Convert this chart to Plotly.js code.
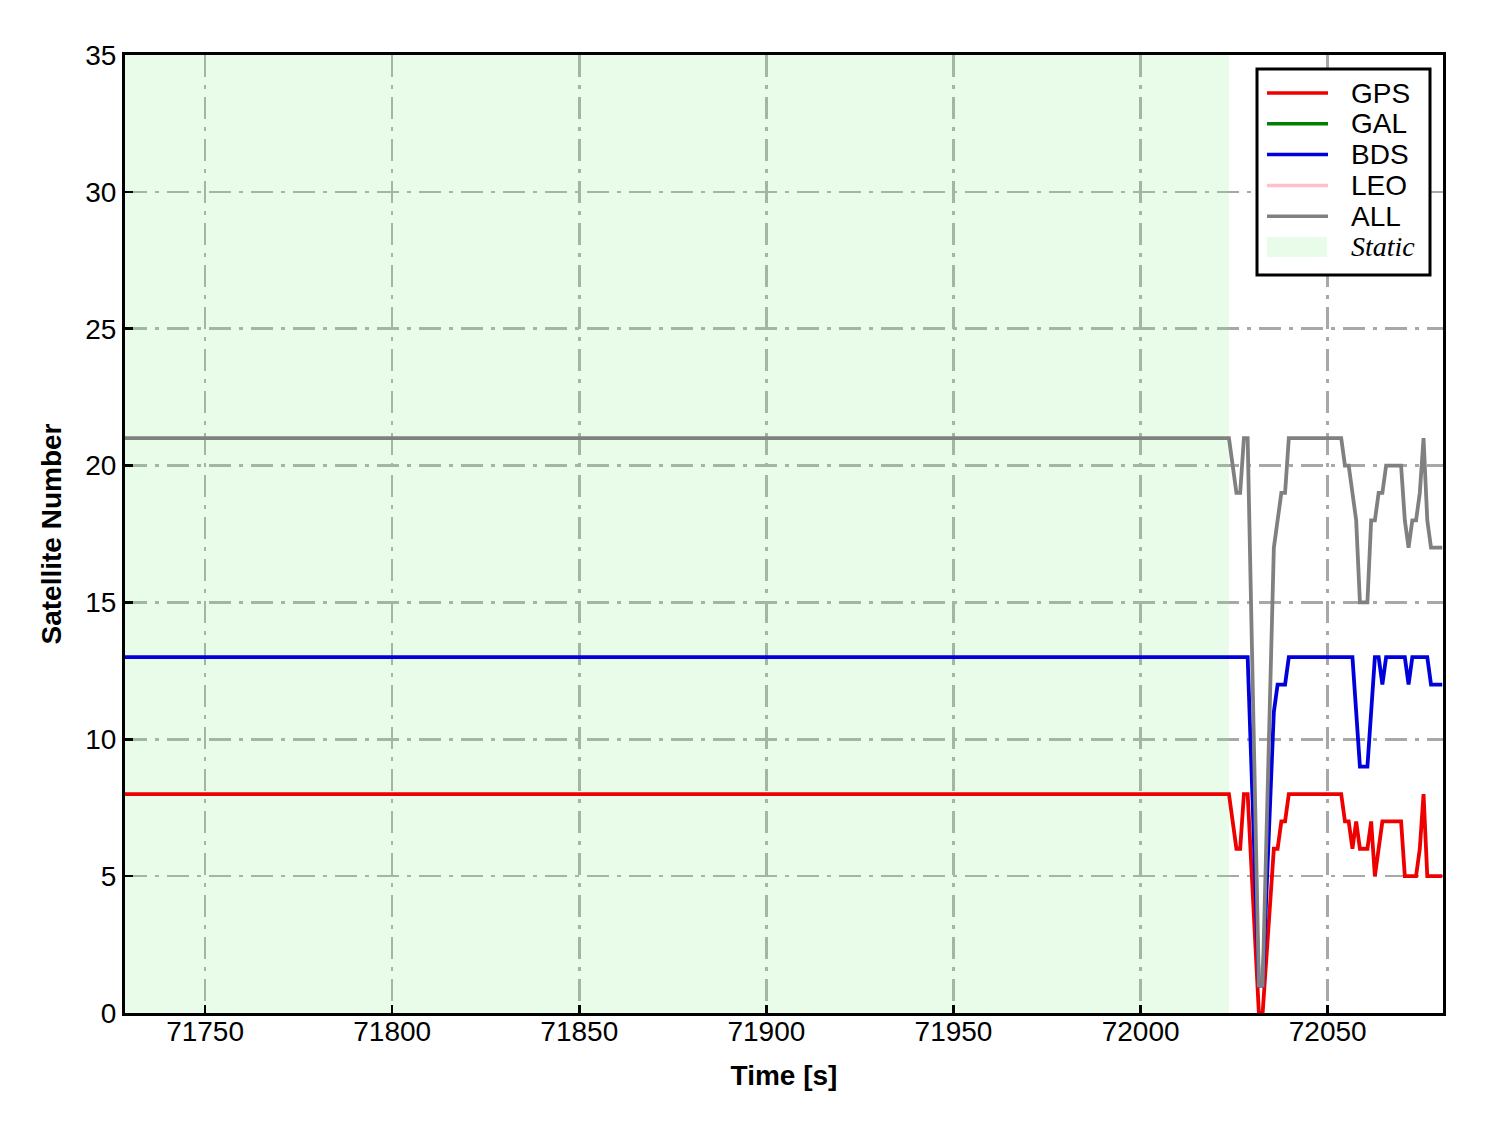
<!DOCTYPE html>
<html>
<head>
<meta charset="utf-8">
<script src="https://cdn.plot.ly/plotly-3.0.1.min.js"></script>
<style>html,body{margin:0;padding:0;background:#fff;}#chart{width:1488px;height:1133px;}</style>
</head>
<body>
<div id="chart"></div>
<script>
// Epoch times [s] (gaps where no epochs were solved)
const timeS = [71728.6, 72023.6, 72024.6, 72025.6, 72026.6, 72027.6, 72028.6,
  72031.6, 72032.6,
  72035.6, 72036.6, 72037.6, 72038.6, 72039.6, 72053.6, 72054.6, 72055.6, 72056.6,
  72057.6, 72058.6, 72059.6, 72060.6, 72061.6, 72062.6, 72063.6, 72064.6, 72065.6,
  72069.6, 72070.6, 72071.6, 72072.6, 72073.6, 72074.6, 72075.6, 72076.6, 72077.6, 72080.6];
const gpsCount = [8, 8, 7, 6, 6, 8, 8,
  0, 0,
  6, 6, 7, 7, 8, 8, 7, 7, 6,
  7, 6, 6, 6, 7, 5, 6, 7, 7,
  7, 5, 5, 5, 5, 6, 8, 5, 5, 5];
const bdsCount = [13, 13, 13, 13, 13, 13, 13,
  1, 1,
  11, 12, 12, 12, 13, 13, 13, 13, 13,
  11, 9, 9, 9, 11, 13, 13, 12, 13,
  13, 13, 12, 13, 13, 13, 13, 13, 12, 12];
const allCount = [21, 21, 20, 19, 19, 21, 21,
  1, 1,
  17, 18, 19, 19, 21, 21, 20, 20, 19,
  18, 15, 15, 15, 18, 18, 19, 19, 20,
  20, 18, 17, 18, 18, 19, 21, 18, 17, 17];
const galCount = [null];
const leoCount = [null];
const staticStart = 71728.6;
const staticEnd = 72023.6;
const yMax = 35;
const xTicks = [71750, 71800, 71850, 71900, 71950, 72000, 72050];
const yTicks = [0, 5, 10, 15, 20, 25, 30, 35];

const seriesNames = ['GPS', 'GAL', 'BDS', 'LEO', 'ALL'];
const seriesColors = ['#ee0000', '#007f00', '#0000dd', '#ffc0cb', '#808080'];
const staticFill = 'rgba(144,238,144,0.2)';

const lw = 3.8;
const seriesY = [gpsCount, galCount, bdsCount, leoCount, allCount];
const traces = [
  {x: [staticStart, staticEnd, staticEnd, staticStart, staticStart], y: [0, 0, yMax, yMax, 0],
   type: 'scatter', mode: 'lines', fill: 'toself', fillcolor: staticFill,
   line: {width: 0, color: 'rgba(0,0,0,0)'}, hoverinfo: 'skip', name: 'Static'}
];
seriesNames.forEach((n, i) => {
  const ys = seriesY[i];
  traces.push({x: ys.length > 1 ? timeS : ys, y: ys, type: 'scatter', mode: 'lines', name: n,
               line: {color: seriesColors[i], width: lw}});
});

// Legend box (drawn as decoration in paper coordinates)
const plotL = 125, plotR = 1443, plotT = 55, plotB = 1013;
const px = v => (v - plotL) / (plotR - plotL);
const py = v => (plotB - v) / (plotB - plotT);
const legendItems = seriesNames.concat(['Static']);
const legendY0 = 93, legendDy = 30.8;
const shapes = [
  {type: 'rect', xref: 'paper', yref: 'paper', x0: px(1257), x1: px(1430), y0: py(275), y1: py(69),
   line: {color: '#000', width: 3}, fillcolor: '#fff', layer: 'above'}
];
const annotations = [];
legendItems.forEach((n, i) => {
  const yc = legendY0 + i * legendDy;
  if (i < seriesNames.length) {
    shapes.push({type: 'line', xref: 'paper', yref: 'paper', x0: px(1267), x1: px(1328), y0: py(yc), y1: py(yc),
                 line: {color: seriesColors[i], width: 3.5}, layer: 'above'});
    annotations.push({xref: 'paper', yref: 'paper', x: px(1349), y: py(yc), xanchor: 'left', yanchor: 'middle',
                      text: n, showarrow: false,
                      font: {family: 'Liberation Sans, Arial, sans-serif', size: 28, color: '#000'}});
  } else {
    shapes.push({type: 'rect', xref: 'paper', yref: 'paper', x0: px(1267), x1: px(1327), y0: py(yc + 10), y1: py(yc - 10),
                 line: {width: 0}, fillcolor: staticFill, layer: 'above'});
    annotations.push({xref: 'paper', yref: 'paper', x: px(1349), y: py(yc), xanchor: 'left', yanchor: 'middle',
                      text: '<i>Static</i>', showarrow: false,
                      font: {family: 'Liberation Serif, Times New Roman, serif', size: 28, color: '#000'}});
  }
});

const axisCommon = {
  showline: true, linecolor: '#000', linewidth: 3, mirror: true,
  ticks: 'inside', ticklen: 8, tickwidth: 2.5, tickcolor: '#000',
  showgrid: true, gridcolor: '#a8a8a8', gridwidth: 2.5, griddash: '22px,8px,4px,8px',
  zeroline: false,
  tickfont: {family: 'Liberation Sans, Arial, sans-serif', size: 28, color: '#000'}
};

const layout = {
  width: 1488, height: 1133,
  margin: {l: plotL, r: 1488 - plotR, t: plotT, b: 1133 - plotB},
  paper_bgcolor: '#fff', plot_bgcolor: '#fff',
  showlegend: false,
  shapes: shapes,
  annotations: annotations,
  xaxis: Object.assign({}, axisCommon, {
    range: [71728.6, 72080.8], tickvals: xTicks, ticktext: xTicks.map(String),
    ticklabelstandoff: -9,
    title: {text: '<b>Time [s]</b>', standoff: 20,
            font: {family: 'Liberation Sans, Arial, sans-serif', size: 28, color: '#000'}}
  }),
  yaxis: Object.assign({}, axisCommon, {
    range: [0, yMax], tickvals: yTicks, ticktext: yTicks.map(String),
    title: {text: '<b>Satellite Number</b>', standoff: 16,
            font: {family: 'Liberation Sans, Arial, sans-serif', size: 28, color: '#000'}}
  })
};

Plotly.newPlot('chart', traces, layout, {staticPlot: true, displayModeBar: false});
</script>
</body>
</html>
